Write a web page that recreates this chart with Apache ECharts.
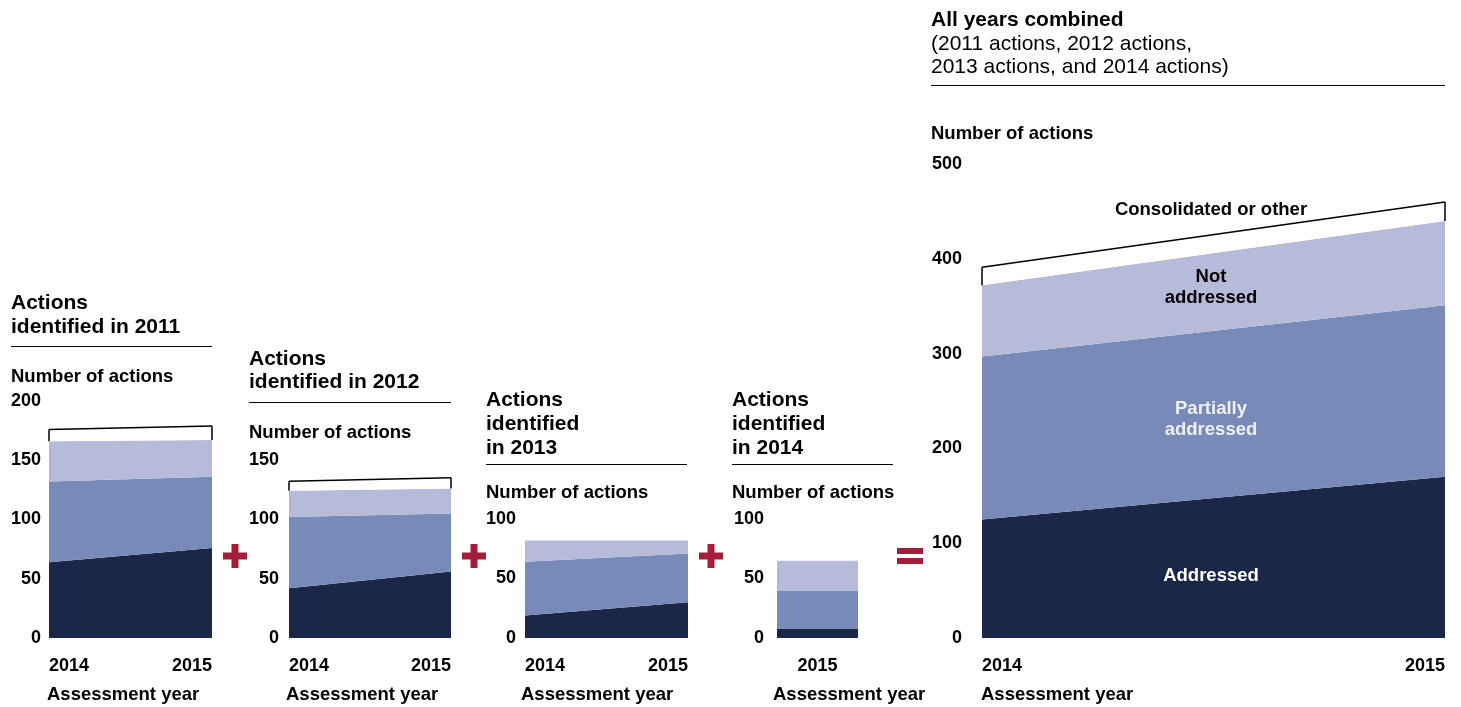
<!DOCTYPE html>
<html>
<head>
<meta charset="utf-8">
<script src="https://cdn.jsdelivr.net/npm/echarts@6/dist/echarts.min.js"></script>
<style>
  html, body { margin: 0; padding: 0; background: #fff; }
  #main { width: 1461px; height: 707px; }
</style>
</head>
<body>
<div id="main"></div>
<script>
var years = ['2014', '2015'];
var years2014 = ['2015'];

// actions identified in 2011
var addr2011 = [64, 76];
var part2011 = [68, 60];
var not2011 = [34, 31];
var other2011 = [10, 12];
// actions identified in 2012
var addr2012 = [42, 56];
var part2012 = [60, 49];
var not2012 = [22, 21];
var other2012 = [8, 9];
// actions identified in 2013
var addr2013 = [19, 30];
var part2013 = [45, 41];
var not2013 = [18, 11];
// actions identified in 2014 (2015 assessment only)
var addr2014 = [8];
var part2014 = [32];
var not2014 = [25];
// all years combined
var addrAll = [125, 170];
var partAll = [172, 181];
var notAll = [75, 89];
var otherAll = [19, 20];

var axisMax = [200, 150, 100, 100, 500];
var axisStep = [50, 50, 50, 50, 100];

var FONT = '"Liberation Sans", Arial, Helvetica, sans-serif';
var C_ADDR = '#1b2748';
var C_PART = '#778ab8';
var C_NOT = '#b6bbd9';
var C_RED = '#a51d3b';

var myChart = echarts.init(document.getElementById('main'));

// grids: bottom of every plot sits at y=638
var grids = [
    { left: 49, width: 163, top: 401, height: 237 },
    { left: 289, width: 162, top: 460, height: 178 },
    { left: 525, width: 163, top: 519, height: 119 },
    { left: 777, width: 81, top: 519, height: 119 },
    { left: 982, width: 463, top: 164, height: 474 }
];
var yMargins = [8, 10, 9, 13, 20];

var labelStyle = { color: '#000', fontWeight: 'bold', fontSize: 18, fontFamily: FONT };

var xAxes = [], yAxes = [];
for (var i = 0; i < 5; i++) {
    var single = (i === 3);
    var xl = Object.assign({ margin: 19 }, labelStyle);
    if (!single) { xl.alignMinLabel = 'left'; xl.alignMaxLabel = 'right'; }
    xAxes.push({
        gridIndex: i, type: 'category', data: single ? years2014 : years,
        boundaryGap: single, axisLine: { show: false }, axisTick: { show: false },
        splitLine: { show: false }, axisLabel: xl
    });
    yAxes.push({
        gridIndex: i, type: 'value', min: 0, max: axisMax[i], interval: axisStep[i],
        axisLine: { show: false }, axisTick: { show: false }, splitLine: { show: false },
        axisLabel: Object.assign({ margin: yMargins[i], padding: [3, 0, 0, 0] }, labelStyle)
    });
}

function area(idx, name, values, color) {
    return {
        type: 'line', name: name, xAxisIndex: idx, yAxisIndex: idx, stack: 's' + idx,
        data: values, symbol: 'none', silent: true,
        lineStyle: { width: 0 }, areaStyle: { color: color, opacity: 1 }
    };
}

// white "consolidated or other" band, outlined like a bracket
function other(idx, values, below) {
    var ends = [];
    for (var k = 0; k < values.length; k++) {
        var base = 0;
        below.forEach(function (arr) { base += arr[k]; });
        ends.push([{ coord: [k, base] }, { coord: [k, base + values[k]] }]);
    }
    var s = area(idx, 'Consolidated or other', values, '#fff');
    s.lineStyle = { width: 1.5, color: '#000' };
    s.markLine = {
        silent: true, symbol: ['none', 'none'], label: { show: false },
        lineStyle: { color: '#000', width: 1.5, type: 'solid' }, data: ends
    };
    return s;
}

function bar(idx, values, color) {
    return {
        type: 'bar', xAxisIndex: idx, yAxisIndex: idx, stack: 's' + idx, data: values,
        barWidth: '100%', silent: true, itemStyle: { color: color }
    };
}

var series = [
    area(0, 'Addressed', addr2011, C_ADDR),
    area(0, 'Partially addressed', part2011, C_PART),
    area(0, 'Not addressed', not2011, C_NOT),
    other(0, other2011, [addr2011, part2011, not2011]),
    area(1, 'Addressed', addr2012, C_ADDR),
    area(1, 'Partially addressed', part2012, C_PART),
    area(1, 'Not addressed', not2012, C_NOT),
    other(1, other2012, [addr2012, part2012, not2012]),
    area(2, 'Addressed', addr2013, C_ADDR),
    area(2, 'Partially addressed', part2013, C_PART),
    area(2, 'Not addressed', not2013, C_NOT),
    bar(3, addr2014, C_ADDR),
    bar(3, part2014, C_PART),
    bar(3, not2014, C_NOT),
    area(4, 'Addressed', addrAll, C_ADDR),
    area(4, 'Partially addressed', partAll, C_PART),
    area(4, 'Not addressed', notAll, C_NOT),
    other(4, otherAll, [addrAll, partAll, notAll])
];

// text helpers
function txt(x, y, s, o) {
    o = o || {};
    return {
        type: 'text', silent: true, z: 100,
        style: {
            text: s, x: x, y: y, fill: o.fill || '#000',
            font: (o.bold === false ? '' : 'bold ') + (o.size || 18.5) + 'px ' + FONT,
            textAlign: o.align || 'left', textVerticalAlign: 'middle'
        }
    };
}
function rule(x1, x2, y) {
    return { type: 'line', silent: true, shape: { x1: x1, y1: y, x2: x2, y2: y }, style: { stroke: '#000', lineWidth: 1 } };
}
function plus(cx, cy) {
    return [
        { type: 'rect', silent: true, shape: { x: cx - 12, y: cy - 3.5, width: 24, height: 7 }, style: { fill: C_RED } },
        { type: 'rect', silent: true, shape: { x: cx - 3.5, y: cy - 12, width: 7, height: 24 }, style: { fill: C_RED } }
    ];
}

var graphic = [
    // panel 2011
    txt(11, 303, 'Actions', { size: 21 }),
    txt(11, 327, 'identified in 2011', { size: 21 }),
    rule(11, 212, 346.5),
    txt(11, 377, 'Number of actions'),
    txt(47, 695, 'Assessment year'),
    // panel 2012
    txt(249, 359, 'Actions', { size: 21 }),
    txt(249, 382, 'identified in 2012', { size: 21 }),
    rule(249, 451, 402.5),
    txt(249, 433, 'Number of actions'),
    txt(286, 695, 'Assessment year'),
    // panel 2013
    txt(486, 400, 'Actions', { size: 21 }),
    txt(486, 424, 'identified', { size: 21 }),
    txt(486, 448, 'in 2013', { size: 21 }),
    rule(486, 687, 464.5),
    txt(486, 493, 'Number of actions'),
    txt(521, 695, 'Assessment year'),
    // panel 2014
    txt(732, 400, 'Actions', { size: 21 }),
    txt(732, 424, 'identified', { size: 21 }),
    txt(732, 448, 'in 2014', { size: 21 }),
    rule(732, 893, 464.5),
    txt(732, 493, 'Number of actions'),
    txt(773, 695, 'Assessment year'),
    // combined
    txt(931, 20, 'All years combined', { size: 21 }),
    txt(931, 44, '(2011 actions, 2012 actions,', { size: 21, bold: false }),
    txt(931, 67, '2013 actions, and 2014 actions)', { size: 21, bold: false }),
    rule(931, 1445, 85.5),
    txt(931, 134, 'Number of actions'),
    txt(981, 695, 'Assessment year'),
    txt(1211, 210, 'Consolidated or other', { align: 'center' }),
    txt(1211, 277, 'Not', { align: 'center' }),
    txt(1211, 298, 'addressed', { align: 'center' }),
    txt(1211, 409, 'Partially', { align: 'center', fill: '#eef0f7' }),
    txt(1211, 430, 'addressed', { align: 'center', fill: '#eef0f7' }),
    txt(1211, 576, 'Addressed', { align: 'center', fill: '#ffffff' })
].concat(plus(235, 556), plus(474, 556), plus(711, 556), [
    { type: 'rect', silent: true, shape: { x: 897, y: 548, width: 26, height: 6 }, style: { fill: C_RED } },
    { type: 'rect', silent: true, shape: { x: 897, y: 558, width: 26, height: 6 }, style: { fill: C_RED } }
]);

var option = {
    backgroundColor: '#fff',
    animation: false,
    grid: grids,
    xAxis: xAxes,
    yAxis: yAxes,
    series: series,
    graphic: graphic
};
myChart.setOption(option);
</script>
</body>
</html>
